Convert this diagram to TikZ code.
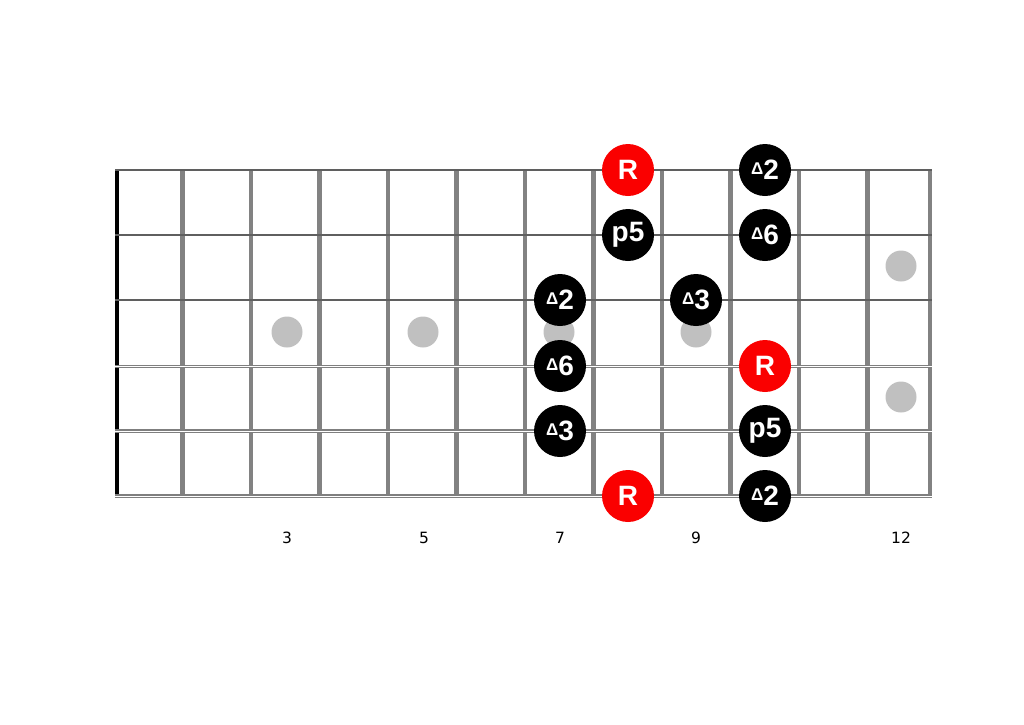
\documentclass[tikz,border=0pt]{standalone}
\usepackage{fontspec}
\setmainfont{Liberation Sans}
\newfontfamily\fretfont{DejaVu Sans}
\usetikzlibrary{positioning}
\definecolor{fretgray}{RGB}{130,130,130}
\definecolor{inlaygray}{RGB}{192,192,192}
\definecolor{rootred}{RGB}{250,0,0}
\definecolor{stringgray}{RGB}{95,95,95}
\tikzset{
  note/.style={circle, fill=black, minimum size=52pt, inner sep=0pt, text=white,
    font=\fontsize{28}{28}\selectfont\bfseries},
  root/.style={note, fill=rootred},
  inlay/.style={circle, fill=inlaygray, minimum size=31pt, inner sep=0pt},
  fretnum/.style={font=\fretfont\fontsize{15.5}{15.5}\selectfont}
}
\newcommand{\tri}{\raisebox{5pt}{\fontsize{17}{17}\selectfont Δ}}

\begin{document}
\begin{tikzpicture}[x=1pt, y=-1pt]
\useasboundingbox (0,0) rectangle (1024,724);
% frets
\foreach \n in {1,...,11} {
    \draw[fretgray, line width=4.5pt] (114+\n*68.5,170) -- (114+\n*68.5,496);
}
\draw[fretgray, line width=4.5pt] (930,170) -- (930,496);
\draw[black, line width=4pt] (117,170) -- (117,496);
% strings
\foreach \y in {170,235,300} {
    \draw[stringgray, line width=1.2pt] (115,\y) -- (932,\y);
}
\foreach \y/\w in {366/3pt,431/3.2pt,496/3.6pt} {
    \draw[stringgray!80, line width=\w] (115,\y) -- (932,\y);
    \draw[white, line width=1pt] (115,\y) -- (932,\y);
}
% inlays
\node[inlay] (inlay3) at (287,332) {};
\node[inlay] (inlay5) at (423,332) {};
\node[inlay] (inlay7) at (559,332) {};
\node[inlay] (inlay9) at (696,332) {};
\node[inlay] (inlay12a) at (901,266) {};
\node[inlay] (inlay12b) at (901,397) {};
% fret numbers
\node[fretnum] (num3) at (287,538) {3};
\node[fretnum] (num5) at (424,538) {5};
\node[fretnum] (num7) at (560,538) {7};
\node[fretnum] (num9) at (696,538) {9};
\node[fretnum] (num12) at (901,538) {12};
% scale tones
\node[root] (rootHigh) at (628,170) {R};
\node[note] (secondHigh) at (765,170) {\tri2};
\node[note] (fifthB) at (628,235) {p5};
\node[note] (sixthB) at (765,235) {\tri6};
\node[note] (secondG) at (560,300) {\tri2};
\node[note] (thirdG) at (696,300) {\tri3};
\node[note] (sixthD) at (560,366) {\tri6};
\node[root] (rootD) at (765,366) {R};
\node[note] (thirdA) at (560,431) {\tri3};
\node[note] (fifthA) at (765,431) {p5};
\node[root] (rootLow) at (628,496) {R};
\node[note] (secondLow) at (765,496) {\tri2};
\end{tikzpicture}
\end{document}
